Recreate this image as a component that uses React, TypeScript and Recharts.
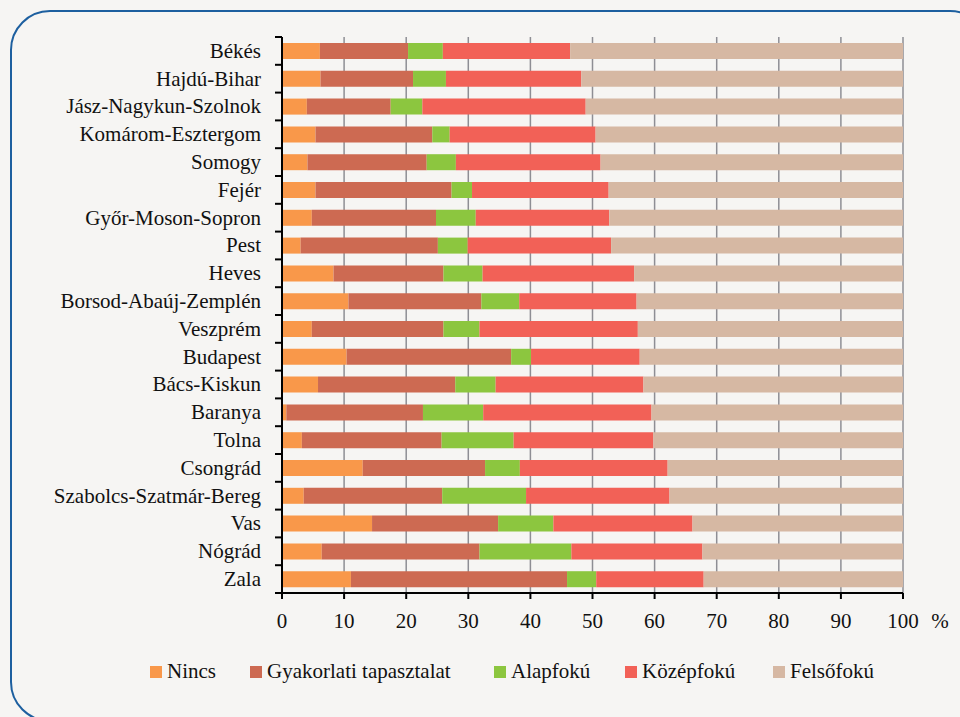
import React from 'react';
import { BarChart, Bar, XAxis, YAxis, CartesianGrid, Legend } from 'recharts';

const categories = ['Békés', 'Hajdú-Bihar', 'Jász-Nagykun-Szolnok', 'Komárom-Esztergom', 'Somogy', 'Fejér', 'Győr-Moson-Sopron', 'Pest', 'Heves', 'Borsod-Abaúj-Zemplén', 'Veszprém', 'Budapest', 'Bács-Kiskun', 'Baranya', 'Tolna', 'Csongrád', 'Szabolcs-Szatmár-Bereg', 'Vas', 'Nógrád', 'Zala'];
const nincs = [6.1, 6.2, 4.0, 5.4, 4.1, 5.4, 4.8, 3.0, 8.3, 10.7, 4.8, 10.4, 5.8, 0.7, 3.2, 13.0, 3.5, 14.5, 6.4, 11.1];
const gyakorlati = [14.2, 14.9, 13.5, 18.8, 19.2, 21.9, 20.0, 22.1, 17.7, 21.4, 21.2, 26.5, 22.1, 22.0, 22.5, 19.7, 22.3, 20.3, 25.4, 34.8];
const alapfoku = [5.6, 5.3, 5.1, 2.8, 4.7, 3.3, 6.4, 4.8, 6.3, 6.1, 5.8, 3.2, 6.5, 9.7, 11.6, 5.6, 13.5, 8.9, 14.8, 4.7];
const kozepfoku = [20.5, 21.8, 26.3, 23.5, 23.3, 22.0, 21.5, 23.1, 24.4, 18.9, 25.5, 17.5, 23.8, 27.1, 22.5, 23.8, 23.1, 22.4, 21.1, 17.3];
const felsofoku = [53.6, 51.8, 51.1, 49.5, 48.7, 47.4, 47.3, 47.0, 43.3, 42.9, 42.7, 42.4, 41.8, 40.5, 40.2, 37.9, 37.6, 33.9, 32.3, 32.1];
const xTicks = [0, 10, 20, 30, 40, 50, 60, 70, 80, 90, 100];

const seriesNames = ['Nincs', 'Gyakorlati tapasztalat', 'Alapfokú', 'Középfokú', 'Felsőfokú'];
const seriesKeys = ['nincs', 'gyak', 'alap', 'kozep', 'felso'];
const seriesColors = ['#f9984a', '#cd6a52', '#8cc63f', '#f26157', '#d6b8a3'];
const legendItemWidths = [100, 244, 131, 148, 130];

const data = categories.map((name, i) => ({
  name,
  nincs: nincs[i],
  gyak: gyakorlati[i],
  alap: alapfoku[i],
  kozep: kozepfoku[i],
  felso: felsofoku[i],
}));

const FONT = "'Liberation Serif', 'Times New Roman', Times, 'DejaVu Serif', 'Noto Serif', Georgia, serif";
const W = 960;
const H = 717;
const TOP = 37;
const PLOT_BOTTOM = 593;
const BAND = (PLOT_BOTTOM - TOP) / categories.length;

const YTick = (props: any) => {
  const { x, y, payload, index } = props;
  const half = BAND / 2;
  return (
    <g>
      <text x={x - 21} y={y} dy="0.33em" textAnchor="end" style={{ fontFamily: FONT, fontSize: 21 }} fill="#111">
        {payload.value}
      </text>
      {index === 0 && <line x1={x - 7} x2={x} y1={y - half} y2={y - half} stroke="#000" strokeWidth={2} />}
      <line x1={x - 7} x2={x} y1={y + half} y2={y + half} stroke="#000" strokeWidth={2} />
    </g>
  );
};

const XTick = (props: any) => {
  const { x, y, payload } = props;
  return (
    <g>
      <text x={x} y={y} dy="0.71em" textAnchor="middle" style={{ fontFamily: FONT, fontSize: 21 }} fill="#111">
        {payload.value}
      </text>
      {payload.value === 100 && (
        <text x={x + 37} y={y} dy="0.71em" textAnchor="middle" style={{ fontFamily: FONT, fontSize: 21 }} fill="#111">
          %
        </text>
      )}
    </g>
  );
};

const LegendContent = () => (
  <div style={{ display: 'flex', alignItems: 'center', paddingLeft: 150, fontFamily: FONT, fontSize: 21, color: '#111' }}>
    {seriesNames.map((n, i) => (
      <div key={n} style={{ display: 'flex', alignItems: 'center', width: legendItemWidths[i], flex: 'none' }}>
        <span style={{ display: 'inline-block', width: 12, height: 12, background: seriesColors[i], marginRight: 5 }} />
        <span>{n}</span>
      </div>
    ))}
  </div>
);

export default function App() {
  return (
    <div style={{ position: 'absolute', left: 0, top: 0, width: W, height: H, overflow: 'hidden', background: '#f6f5f3', fontFamily: FONT }}>
      <div
        style={{
          position: 'absolute',
          left: 10,
          top: 10,
          width: 980,
          height: 712,
          border: '2px solid #1d5f9f',
          borderRadius: 40,
          boxSizing: 'border-box',
        }}
      />
      <div style={{ position: 'absolute', left: 0, top: 0 }}>
        <BarChart
          width={W}
          height={H}
          data={data}
          layout="vertical"
          margin={{ top: TOP, right: W - 903, left: 0, bottom: H - PLOT_BOTTOM - 30 }}
          barSize={16}
          style={{ fontFamily: FONT }}
        >
          <CartesianGrid horizontal={false} vertical stroke="#8e8e94" strokeWidth={1.5} />
          <XAxis
            type="number"
            domain={[0, 100]}
            allowDataOverflow
            ticks={xTicks}
            interval={0}
            height={30}
            tickSize={6}
            tickMargin={14}
            tick={<XTick />}
            axisLine={{ stroke: '#000', strokeWidth: 2 }}
            tickLine={{ stroke: '#000', strokeWidth: 2 }}
          />
          <XAxis
            xAxisId="top"
            orientation="top"
            type="number"
            domain={[0, 100]}
            height={0}
            tick={false}
            tickLine={false}
            axisLine={{ stroke: '#000', strokeWidth: 2 }}
          />
          <YAxis
            type="category"
            dataKey="name"
            width={282}
            interval={0}
            tickSize={0}
            tickMargin={0}
            tickLine={false}
            tick={<YTick />}
            axisLine={{ stroke: '#000', strokeWidth: 2 }}
          />
          <YAxis
            yAxisId="right"
            orientation="right"
            type="category"
            dataKey="name"
            width={0}
            tick={false}
            tickLine={false}
            axisLine={{ stroke: '#000', strokeWidth: 2 }}
          />
          <Legend
            layout="horizontal"
            verticalAlign="middle"
            align="center"
            content={<LegendContent />}
            wrapperStyle={{ top: 659, left: 0, width: W }}
          />
          {seriesKeys.map((k, i) => (
            <Bar key={k} dataKey={k} name={seriesNames[i]} stackId="a" fill={seriesColors[i]} isAnimationActive={false} />
          ))}
        </BarChart>
      </div>
    </div>
  );
}
